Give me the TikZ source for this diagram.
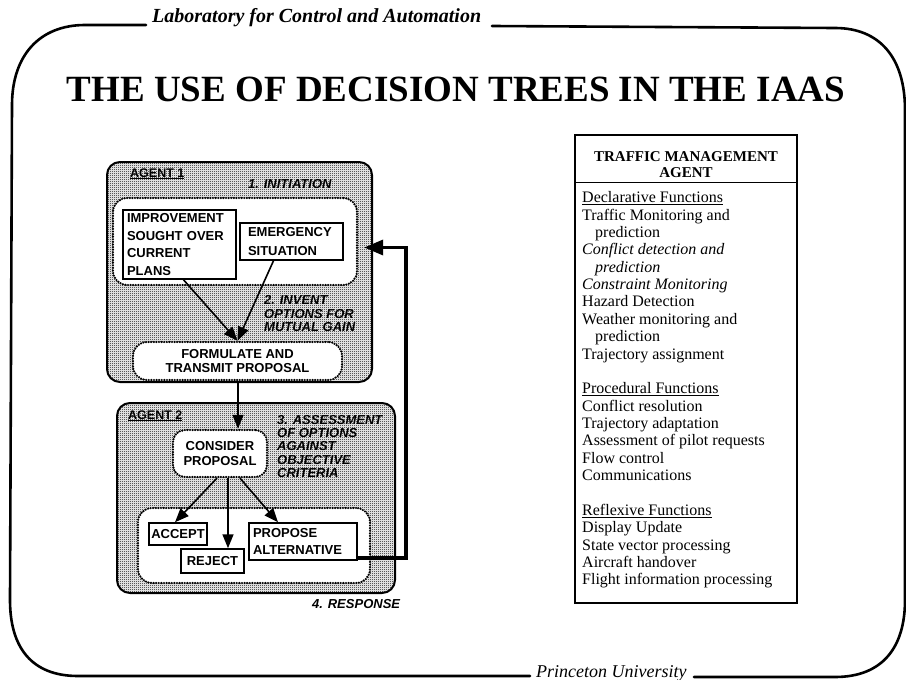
\documentclass[tikz,border=0pt]{standalone}
\usepackage{fontspec}
\setmainfont{Liberation Serif}
\setsansfont{Liberation Sans}
\usetikzlibrary{arrows.meta,patterns.meta,calc}

% fine checkered screen used for the shaded agent panels
\tikzdeclarepattern{
  name=dither,
  type=uncolored,
  bottom left={(0pt,0pt)},
  top right={(2pt,2pt)},
  tile size={(2pt,2pt)},
  code={
    \pgfpathrectangle{\pgfpoint{0pt}{0pt}}{\pgfpoint{1pt}{1pt}}
    \pgfpathrectangle{\pgfpoint{1pt}{1pt}}{\pgfpoint{1pt}{1pt}}
    \pgfusepath{fill}
  }
}

\tikzset{
  frame/.style={line width=2.6pt, line cap=round},
  agent/.style={draw, line width=2pt, rounded corners=13pt, pattern=dither, pattern color=black, inner sep=0pt},
  zone/.style={draw, fill=white, line width=2.4pt, line cap=round, dash pattern=on 0pt off 2.6pt, rounded corners=14pt, inner sep=0pt},
  item/.style={draw, fill=white, line width=1.5pt, inner sep=0pt,
    font=\sffamily\bfseries\fontsize{13}{17.6}\selectfont},
  lbl/.style={inner sep=0pt, align=left, font=\sffamily\bfseries\itshape\fontsize{13}{13.3}\selectfont},
  agentname/.style={inner sep=0pt, font=\sffamily\bfseries\fontsize{12.5}{13}\selectfont},
  flow/.style={-{Triangle[length=14pt,width=11pt]}, line width=1.6pt},
  feedback/.style={-{Triangle[length=19pt,width=15pt]}, line width=3.6pt},
  listtext/.style={inner sep=0pt, align=left, font=\fontsize{16}{17.36}\selectfont},
}

\begin{document}
\begin{tikzpicture}[x=1pt,y=-1pt]
\clip (0,0) rectangle (906,680);
\fill[white] (0,0) rectangle (906,680);

% ---- page frame with header and footer ----
\draw[frame] (146,25) -- (85,25) .. controls (40,25) and (12,55) .. (12,105)
  -- (10,600) .. controls (10,648) and (32,676) .. (78,676) -- (530,676);
\draw[frame] (492,26) -- (835,28) .. controls (880,28) and (905,58) .. (905,110)
  -- (905,600) .. controls (905,648) and (882,677) .. (835,677) -- (694,677);
\node[anchor=base west, inner sep=0pt, font=\bfseries\itshape\fontsize{20}{20}\selectfont]
  (lab) at (152,23) {Laboratory for Control and Automation};
\node[anchor=base west, inner sep=0pt, font=\itshape\fontsize{18}{18}\selectfont]
  (univ) at (536,677) {Princeton University};

% ---- title ----
\node[anchor=base, inner sep=0pt, font=\bfseries\fontsize{37}{37}\selectfont]
  (title) at (456,101) {THE USE OF DECISION TREES IN THE IAAS};

% ---- agent panels ----
\node[agent, minimum width=265pt, minimum height=220pt] (agent1) at (239.5,272) {};
\node[agent, minimum width=278pt, minimum height=190pt] (agent2) at (256,498) {};

\node[zone, minimum width=244pt, minimum height=87pt] (zone1) at (235,241.5) {};
\node[zone, minimum width=232pt, minimum height=75pt] (zone2) at (254,545.5) {};

\node[agentname, anchor=base west] (a1name) at (130,177) {\underline{AGENT 1}};
\node[agentname, anchor=base west] (a2name) at (128,419) {\underline{AGENT 2}};

\node[lbl, anchor=base west] (step1) at (248,188) {1. INITIATION};
\node[lbl, anchor=north west] (step2) at (264,295.5) {2. INVENT\\OPTIONS FOR\\MUTUAL GAIN};
\node[lbl, anchor=north west] (step3) at (277,415) {3. ASSESSMENT\\OF OPTIONS\\AGAINST\\OBJECTIVE\\CRITERIA};
\node[lbl, anchor=base west] (step4) at (312,608) {4. RESPONSE};

% ---- decision tree ----
\node[item, minimum width=113pt, minimum height=69pt, text width=105pt, align=left]
  (impr) at (179.5,244.5) {IMPROVEMENT\\SOUGHT OVER\\CURRENT\\PLANS};
\node[item, minimum width=103pt, minimum height=37pt, text width=87pt, align=left,
  font=\sffamily\bfseries\fontsize{13}{19}\selectfont]
  (emerg) at (291.5,241.5) {EMERGENCY\\SITUATION};
\node[zone, minimum width=209pt, minimum height=38pt, align=center,
  font=\sffamily\bfseries\fontsize{13}{14}\selectfont]
  (form) at (237.5,361) {FORMULATE AND\\TRANSMIT PROPOSAL};
\node[zone, minimum width=94pt, minimum height=47pt, rounded corners=12pt, align=center,
  font=\sffamily\bfseries\fontsize{13}{15}\selectfont]
  (cons) at (220,453.5) {CONSIDER\\PROPOSAL};
\node[item, minimum width=58pt, minimum height=22pt] (accept) at (178,534) {ACCEPT};
\node[item, minimum width=63pt, minimum height=24pt] (reject) at (212.5,561) {REJECT};
\node[item, minimum width=108pt, minimum height=37pt, text width=100pt, align=left,
  font=\sffamily\bfseries\fontsize{13}{17}\selectfont]
  (propose) at (303,541.5) {PROPOSE\\ALTERNATIVE};

% connector end points on the node borders
\coordinate (imprOut) at ($(impr.south)+(4,0)$);
\coordinate (emergOut) at ($(emerg.south)+(-18,0)$);
\coordinate (formOut) at ($(form.south)+(0.5,0)$);
\coordinate (consIn) at (formOut |- cons.north);
\coordinate (consA) at ($(cons.south)+(-3,0)$);
\coordinate (consR) at ($(cons.south)+(8,0)$);
\coordinate (consP) at ($(cons.south)+(20,0)$);
\coordinate (accIn) at ($(accept.north)+(-3,0)$);
\coordinate (propIn) at ($(propose.north)+(-25,0)$);
\coordinate (propOut) at ($(propose.south east)+(0,-3)$);
\coordinate (loopTop) at ($(zone1.east)+(48,6)$);
\coordinate (loopIn) at ($(zone1.east)+(6,6)$);

\draw[flow] (imprOut) -- (form.north);
\draw[flow] (emergOut) -- (form.north);
\draw[flow] (formOut) -- (consIn);
\draw[flow] (consA) -- (accIn);
\draw[flow] (consR) -- (consR |- reject.north);
\draw[flow] (consP) -- (propIn);

\draw[feedback] (propOut) -| (loopTop) -- (loopIn);

% ---- traffic management agent table ----
\node[draw, line width=1.5pt, minimum width=222pt, minimum height=468pt, inner sep=0pt]
  (table) at (686,369) {};
\node[anchor=north, inner sep=0pt, align=center, font=\bfseries\fontsize{15}{15.5}\selectfont]
  (thead) at (686,151.5) {TRAFFIC MANAGEMENT\\AGENT};
\draw[line width=1.5pt] ($(table.north west)+(0,48)$) -- ($(table.north east)+(0,48)$);
\node[listtext, anchor=north west] (tlist) at (582,191.5) {%
\underline{Declarative Functions}\\
Traffic Monitoring and\\
\hspace*{13pt}prediction\\
\textit{Conflict detection and}\\
\hspace*{13pt}\textit{prediction}\\
\textit{Constraint Monitoring}\\
Hazard Detection\\
Weather monitoring and\\
\hspace*{13pt}prediction\\
Trajectory assignment\\
\mbox{}\\
\underline{Procedural Functions}\\
Conflict resolution\\
Trajectory adaptation\\
Assessment of pilot requests\\
Flow control\\
Communications\\
\mbox{}\\
\underline{Reflexive Functions}\\
Display Update\\
State vector processing\\
Aircraft handover\\
Flight information processing};
\end{tikzpicture}
\end{document}
